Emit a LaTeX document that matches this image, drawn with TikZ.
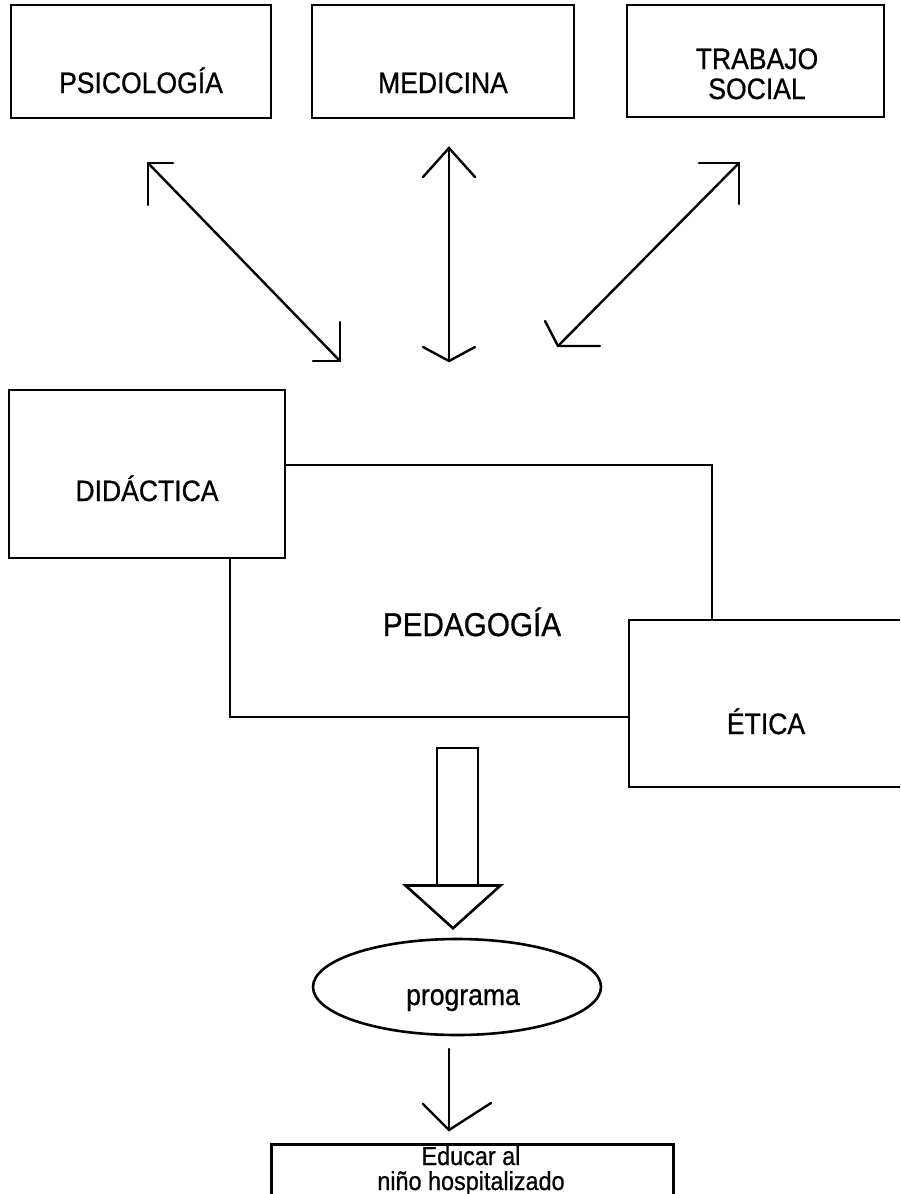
\documentclass[tikz,border=0pt]{standalone}
\usepackage{fontspec}
\setmainfont{Liberation Sans}[FakeStretch=0.9,FakeBold=0.7]
\usetikzlibrary{shapes.geometric}
\begin{document}
\begin{tikzpicture}[x=1pt,y=-1pt,line width=2.6pt,line join=miter,
  box/.style={draw,fill=white,inner sep=0pt},
  lbl/.style={anchor=base,inner sep=0pt,font=\fontsize{29.5}{34}\selectfont},
  big/.style={anchor=base,inner sep=0pt,font=\fontsize{33}{36}\selectfont},
  small/.style={anchor=base,inner sep=0pt,font=\fontsize{26}{28}\selectfont},
  conn/.style={draw,line width=2.4pt,line cap=round}]
\useasboundingbox (0,0) rectangle (900,1194);
\clip (0,0) rectangle (900,1194);
% top boxes
\node[box,minimum width=260pt,minimum height=113pt] (psi) at (141,61.5) {};
\node[lbl] (psit) at (141,93) {PSICOLOGÍA};
\node[box,minimum width=262pt,minimum height=113pt] (med) at (443,61.5) {};
\node[lbl] (medt) at (443,93) {MEDICINA};
\node[box,minimum width=257pt,minimum height=112pt] (tra) at (755.5,61) {};
\node[lbl] (trat1) at (757,69) {TRABAJO};
\node[lbl] (trat2) at (757,99) {SOCIAL};
% arrow end points
\coordinate (a1) at (148,163);
\coordinate (a2) at (340,361);
\coordinate (b1) at (449,148);
\coordinate (b2) at (449,361);
\coordinate (c1) at (739,163);
\coordinate (c2) at (558,346);
% left arrow
\draw[conn] (a1) -- (a2);
\draw[conn] (173,163) -- (a1) -- (148,205);
\draw[conn] (340,322) -- (a2) -- (313,361);
% middle arrow
\draw[conn] (b1) -- (b2);
\draw[conn] (423,177) -- (b1) -- (475,177);
\draw[conn] (423,347) -- (b2) -- (475,347);
% right arrow
\draw[conn] (c1) -- (c2);
\draw[conn] (699,163) -- (c1) -- (739,204);
\draw[conn] (600,346) -- (c2) -- (545,321);
% pedagogia, didactica, etica
\node[box,minimum width=482pt,minimum height=252pt] (ped) at (471,591) {};
\node[big] (pedt) at (472,636) {PEDAGOGÍA};
\node[box,minimum width=276pt,minimum height=168pt] (did) at (147,474) {};
\node[lbl] (didt) at (147,501) {DIDÁCTICA};
\node[box,minimum width=290pt,minimum height=167pt] (eti) at (774,703.5) {};
\node[lbl] (etit) at (766,734) {ÉTICA};
% block arrow
\node[box,minimum width=41pt,minimum height=139pt] (shaft) at (457.5,817.5) {};
\node[draw,fill=white,isosceles triangle,shape border rotate=-90,isosceles triangle apex angle=96,
  inner sep=0pt,minimum width=95pt,minimum height=42pt,anchor=apex] (head) at (453,930) {};
% ellipse
\node[draw,ellipse,minimum width=288pt,minimum height=96pt,inner sep=0pt] (prog) at (457,987) {};
\node[lbl] (progt) at (463,1005) {programa};
% lower arrow
\coordinate (d1) at (449,1049);
\coordinate (d2) at (449,1130);
\draw[conn] (d1) -- (d2);
\draw[conn] (423,1104) -- (d2) -- (491,1103);
% bottom box
\node[box,minimum width=402pt,minimum height=80pt,anchor=north west] (edu) at (270,1143) {};
\node[small] (edut1) at (471,1165) {Educar al};
\node[small] (edut2) at (471,1190) {niño hospitalizado};
\end{tikzpicture}
\end{document}
